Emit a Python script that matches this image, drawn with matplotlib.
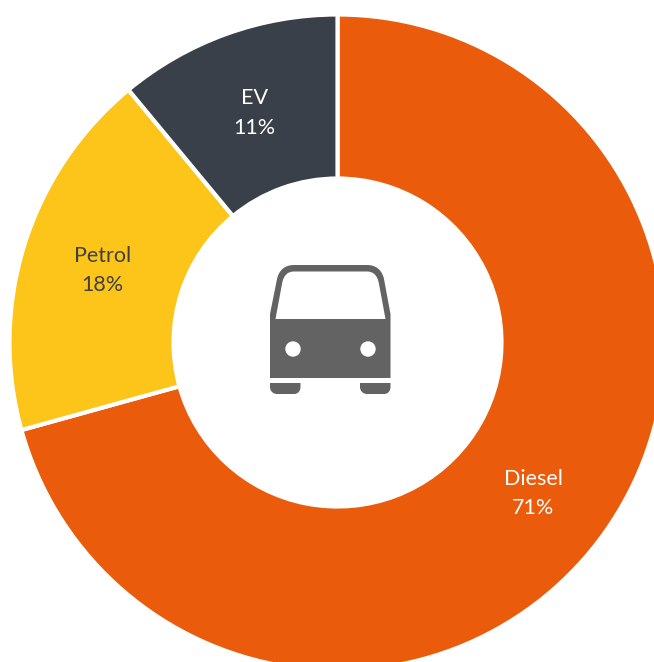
import numpy as np
import matplotlib
matplotlib.use('Agg')
import matplotlib.pyplot as plt
from matplotlib.path import Path
from matplotlib.patches import PathPatch, Circle

labels = ['Diesel', 'Petrol', 'EV']
shares = [70.7, 18.3, 11.0]
shown = [71, 18, 11]
colors = ['#EA5B0C', '#FDC41A', '#394049']
text_colors = ['white', '#404040', 'white']

plt.rcParams['font.family'] = ['Lato', 'DejaVu Sans']

fig = plt.figure(figsize=(6.54, 6.62), dpi=100)
ax = fig.add_axes([0, 0, 1, 1])

# axes units are pixels, origin at the centre of the ring
cx, cy = 337.5, 342.5
R = 328
r = 164
wedges, _ = ax.pie(shares, colors=colors, startangle=90, counterclock=False, radius=R,
                   wedgeprops=dict(width=R - r, edgecolor='white', linewidth=3.0))
ax.set_xlim(-cx, 654 - cx)
ax.set_ylim(cy - 662, cy)

for w, lab, val, c in zip(wedges, labels, shown, text_colors):
    a = np.radians((w.theta1 + w.theta2) / 2)
    x = (R + r) / 2 * np.cos(a)
    y = (R + r) / 2 * np.sin(a) - 2
    ax.text(x, y, lab + '\n' + str(val) + '%', color=c, fontsize=15.5, ha='center', va='center', linespacing=1.6)


def P(px, py):  # picture pixels to axes units
    return (px - cx, cy - py)


# bus icon
grey = '#636363'
M, L, C, Z = Path.MOVETO, Path.LINETO, Path.CURVE4, Path.CLOSEPOLY
body = [(M, (270, 378)), (L, (270, 314)), (L, (277, 279)),
        (C, (279, 270)), (C, (285, 265)), (C, (294, 265)),
        (L, (367, 265)), (C, (376, 265)), (C, (382, 270)), (C, (384, 279)),
        (L, (390.5, 314)), (L, (390.5, 378)), (Z, (270, 378)),
        # windshield
        (M, (275.5, 319)), (L, (385.5, 319)), (L, (379, 284)),
        (C, (377.5, 275)), (C, (373, 271.5)), (C, (367, 271.5)),
        (L, (294, 271.5)), (C, (288, 271.5)), (C, (283.5, 275)), (C, (282, 284)),
        (Z, (275.5, 319))]
foot_l = [(M, (270, 383)), (L, (300.5, 383)), (L, (300.5, 387)),
          (C, (300.5, 391)), (C, (298, 394)), (C, (294, 394)),
          (L, (277, 394)), (C, (273, 394)), (C, (270, 391)), (C, (270, 387)), (Z, (270, 383))]
foot_r = [(M, (360, 383)), (L, (390.5, 383)), (L, (390.5, 387)),
          (C, (390.5, 391)), (C, (388, 394)), (C, (384, 394)),
          (L, (367, 394)), (C, (363, 394)), (C, (360, 391)), (C, (360, 387)), (Z, (360, 383))]
for shape in (body, foot_l, foot_r):
    path = Path([P(*p) for _, p in shape], [k for k, _ in shape])
    ax.add_patch(PathPatch(path, facecolor=grey, edgecolor='none'))
for hx in (293, 368):
    ax.add_patch(Circle(P(hx, 349), 7.7, facecolor='white', edgecolor='none'))

fig.savefig('out.png', dpi=100, facecolor='white')
